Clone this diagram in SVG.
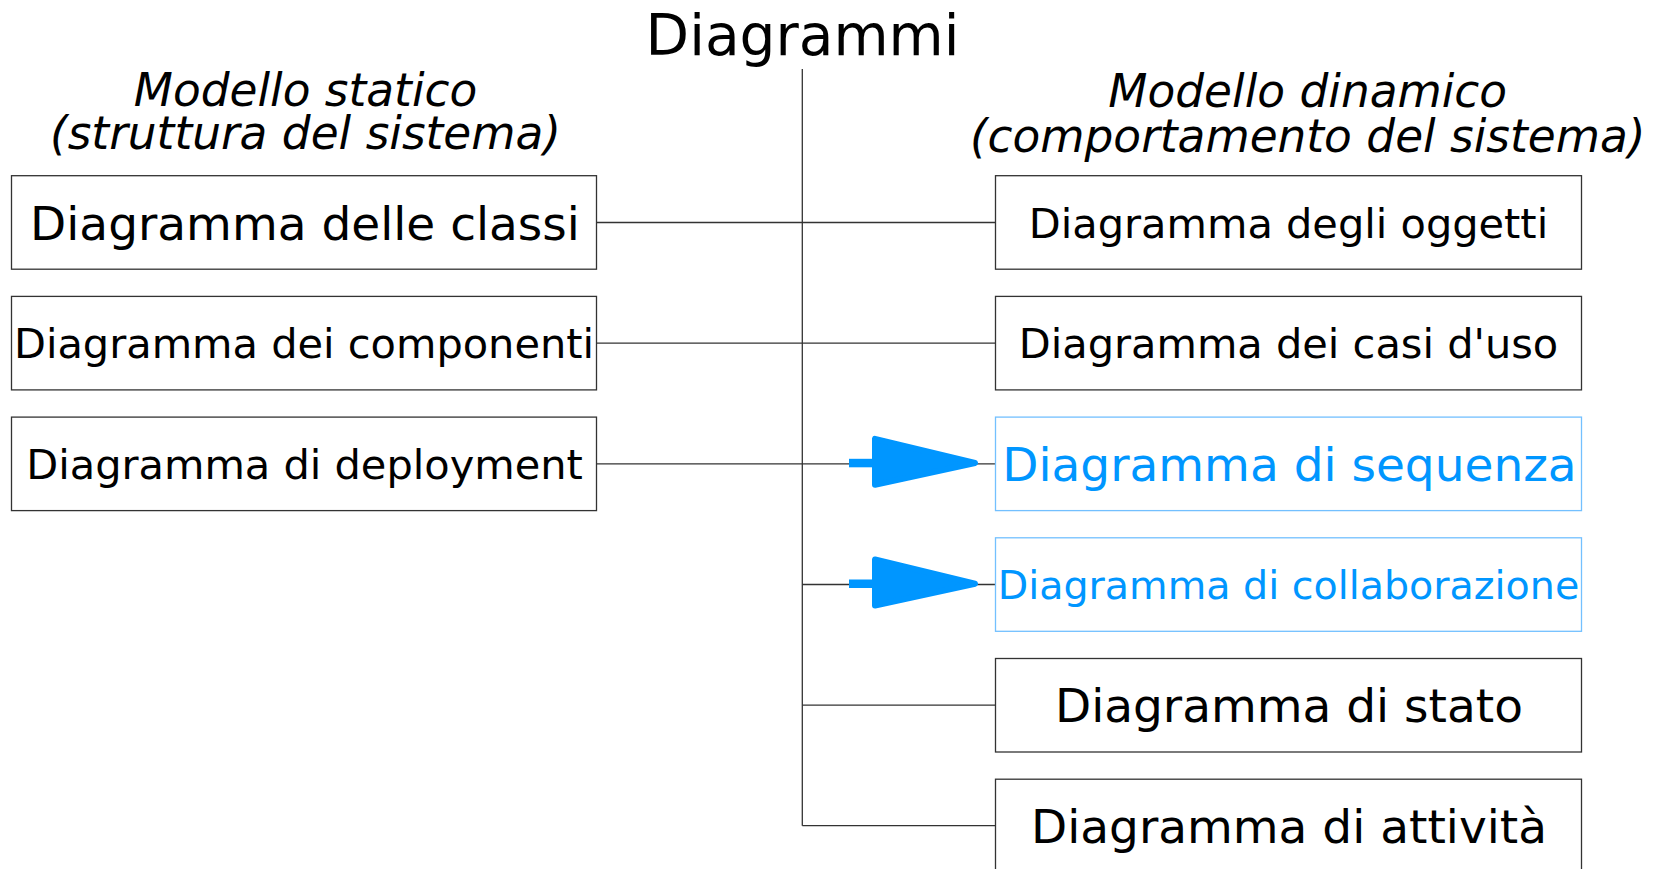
<svg xmlns="http://www.w3.org/2000/svg" width="1661" height="869" viewBox="0 0 1661 869">
  <style>
    text { font-family: "DejaVu Sans", "Liberation Sans", sans-serif; text-anchor: middle; fill: #000; }
    .title { font-size: 56.6px; }
    .heading { font-size: 45.4px; font-style: italic; }
    .box { fill: #fff; stroke: #333; stroke-width: 1.3; }
    .box.hl { stroke: #73c0ff; }
    .hl-text { fill: #0096ff; }
    .link { fill: none; stroke: #333; stroke-width: 1.3; }
    .arrow { fill: #0096ff; stroke: #0096ff; stroke-width: 6; stroke-linejoin: round; }
  </style>
  <defs>
    <g id="blue-arrow">
      <rect x="849" y="-4.5" width="26" height="8.5" fill="#0096ff"/>
      <polygon class="arrow" points="875,-24.5 875,21.5 975,-0.3"/>
    </g>
  </defs>
  <rect width="1661" height="869" fill="#fff"/>

  <text class="title" x="802.5" y="55">Diagrammi</text>
  <g id="heading-static">
    <text class="heading" x="305.5" y="106">Modello statico</text>
    <text class="heading" x="305.5" y="149">(struttura del sistema)</text>
  </g>
  <g id="heading-dynamic">
    <text class="heading" x="1307.7" y="107">Modello dinamico</text>
    <text class="heading" x="1307.7" y="151.5">(comportamento del sistema)</text>
  </g>

  <g id="connectors">
    <line class="link" x1="802.3" y1="69" x2="802.3" y2="825.7"/>
    <line class="link" x1="596.5" y1="222.5" x2="995.5" y2="222.5"/>
    <line class="link" x1="596.5" y1="343.2" x2="995.5" y2="343.2"/>
    <line class="link" x1="596.5" y1="463.8" x2="995.5" y2="463.8"/>
    <line class="link" x1="802.3" y1="584.5" x2="995.5" y2="584.5"/>
    <line class="link" x1="802.3" y1="705.2" x2="995.5" y2="705.2"/>
    <line class="link" x1="802.3" y1="825.7" x2="995.5" y2="825.7"/>
    <use href="#blue-arrow" y="463.3"/>
    <use href="#blue-arrow" y="584"/>
  </g>

  <g id="class-diagram">
    <rect class="box" x="11.5" y="175.7" width="585" height="93.5"/>
    <text x="305" y="239.6" font-size="47">Diagramma delle classi</text>
  </g>
  <g id="component-diagram">
    <rect class="box" x="11.5" y="296.4" width="585" height="93.5"/>
    <text x="304" y="358.3" font-size="41.5">Diagramma dei componenti</text>
  </g>
  <g id="deployment-diagram">
    <rect class="box" x="11.5" y="417.1" width="585" height="93.5"/>
    <text x="304.5" y="479" font-size="41.5">Diagramma di deployment</text>
  </g>

  <g id="object-diagram">
    <rect class="box" x="995.5" y="175.7" width="586" height="93.5"/>
    <text x="1288.5" y="237.6" font-size="41.5">Diagramma degli oggetti</text>
  </g>
  <g id="use-case-diagram">
    <rect class="box" x="995.5" y="296.4" width="586" height="93.5"/>
    <text x="1288.5" y="358.3" font-size="41.5">Diagramma dei casi d'uso</text>
  </g>
  <g id="sequence-diagram">
    <rect class="box hl" x="995.5" y="417.1" width="586" height="93.5"/>
    <text class="hl-text" x="1289.5" y="480.9" font-size="47">Diagramma di sequenza</text>
  </g>
  <g id="collaboration-diagram">
    <rect class="box hl" x="995.5" y="537.8" width="586" height="93.5"/>
    <text class="hl-text" x="1288.5" y="598.9" font-size="39.6">Diagramma di collaborazione</text>
  </g>
  <g id="state-diagram">
    <rect class="box" x="995.5" y="658.5" width="586" height="93.5"/>
    <text x="1289" y="722.3" font-size="47">Diagramma di stato</text>
  </g>
  <g id="activity-diagram">
    <rect class="box" x="995.5" y="779.2" width="586" height="93.5"/>
    <text x="1289" y="843" font-size="47">Diagramma di attività</text>
  </g>
</svg>
